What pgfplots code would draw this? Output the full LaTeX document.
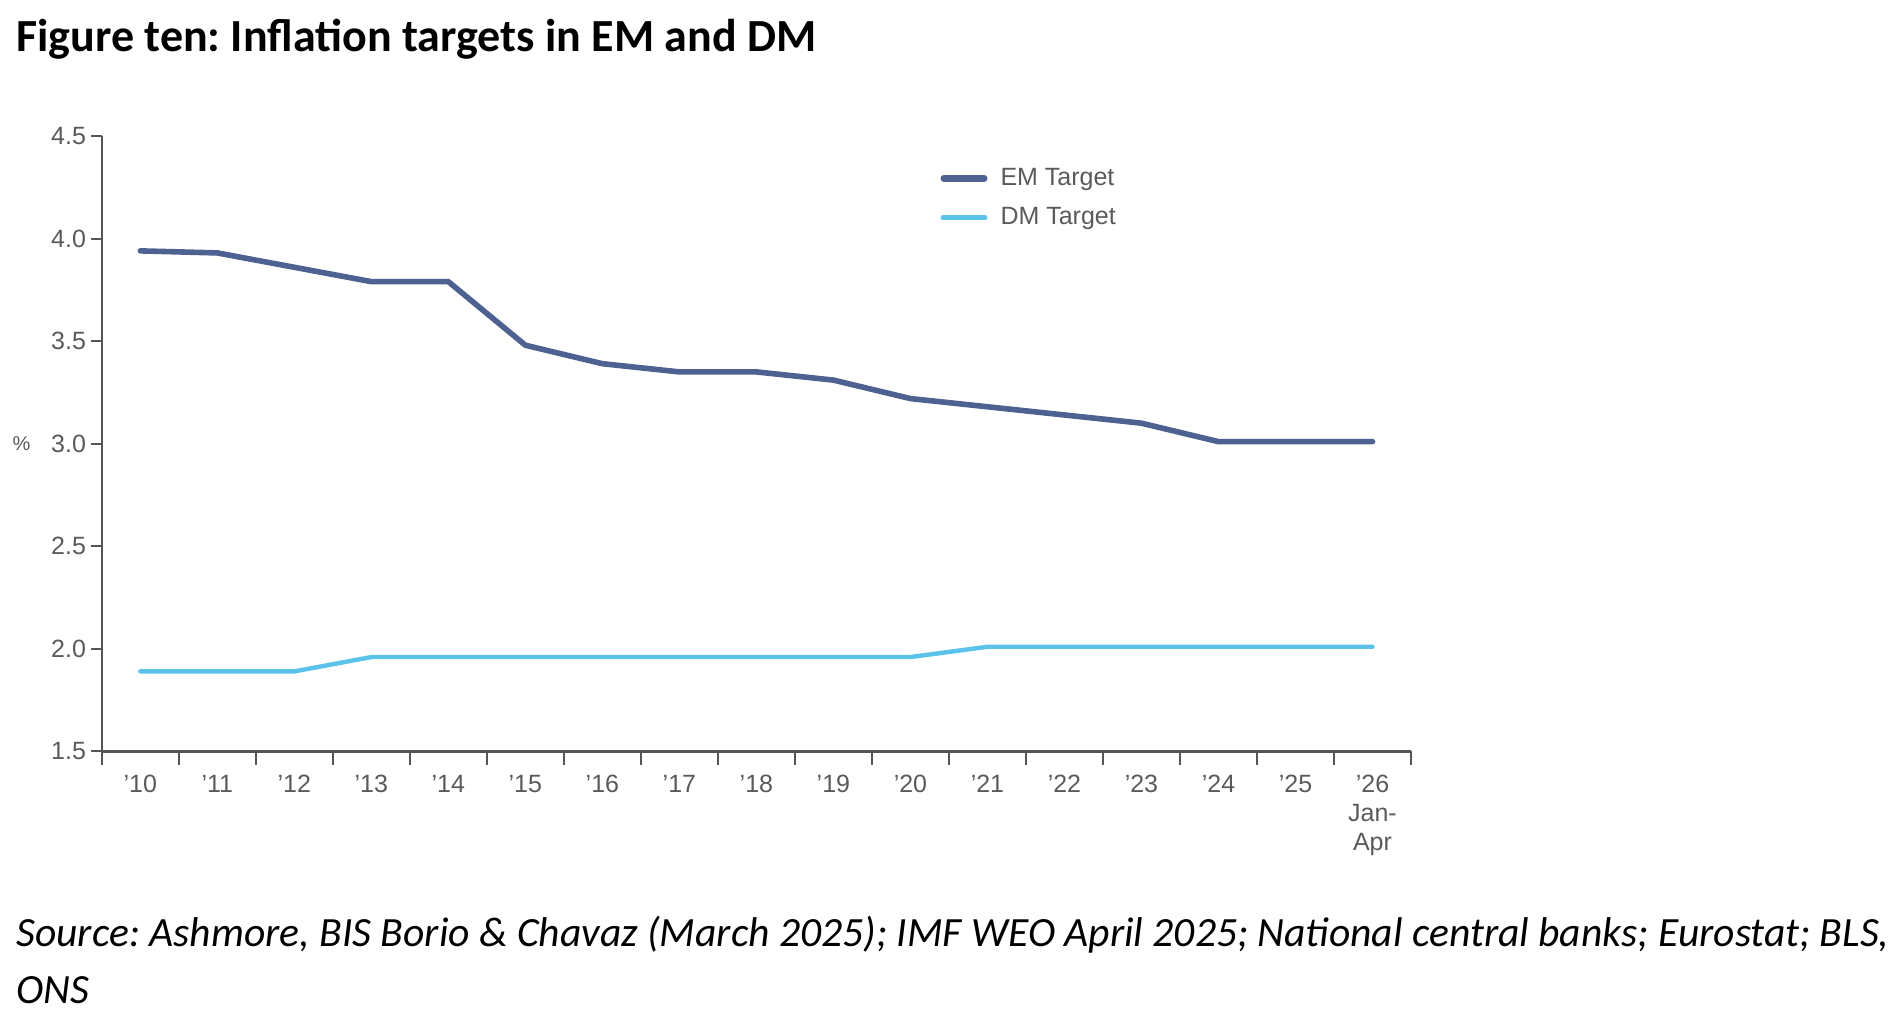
\documentclass[border=0pt]{standalone}
\usepackage{fontspec}
\setmainfont{Carlito}
\newfontfamily\arial{Liberation Sans}
\usepackage{pgfplots}
\pgfplotsset{compat=1.18}
\definecolor{emcol}{HTML}{4D6291}
\definecolor{dmcol}{HTML}{5BC2EA}
\definecolor{axgray}{HTML}{555555}
\definecolor{lblgray}{HTML}{5A5A5A}
\frenchspacing
\begin{document}
\begin{tikzpicture}
\useasboundingbox (0,0) rectangle (949.5pt,517pt);
\node[anchor=base west,inner sep=0pt,font=\fontsize{23}{27}\selectfont\bfseries] at (8pt,491pt) {Figure ten: Inflation targets in EM and DM};
\node[anchor=base west,inner sep=0pt,font=\fontsize{20.8}{25}\selectfont\itshape] at (8pt,44pt) {Source: Ashmore, BIS Borio \& Chavaz (March 2025); IMF WEO April 2025; National central banks; Eurostat; BLS,};
\node[anchor=base west,inner sep=0pt,font=\fontsize{20.8}{25}\selectfont\itshape] at (8pt,15.5pt) {ONS};
\begin{axis}[
  at={(50.9pt,141.3pt)}, anchor=south west,
  scale only axis, width=654.6pt, height=307.7pt,
  xmin=-0.5, xmax=16.5, ymin=1.5, ymax=4.5,
  axis x line=bottom, axis y line=left,
  axis line style={-, axgray, line width=1.3pt},
  tick align=outside,
  major tick length=5.2pt, minor tick length=6.7pt,
  xtick={0,...,16},
  xticklabels={’10,’11,’12,’13,’14,’15,’16,’17,’18,’19,’20,’21,’22,’23,’24,’25,{’26\\Jan-\\Apr}},
  major x tick style={draw=none},
  minor xtick={-0.5,0.5,...,16.5},
  minor x tick style={axgray, line width=1pt},
  ytick={1.5,2.0,2.5,3.0,3.5,4.0,4.5},
  yticklabels={1.5,2.0,2.5,3.0,3.5,4.0,4.5},
  ytick style={axgray, line width=1pt},
  ticklabel style={font=\arial\fontsize{12.5}{14.5}\selectfont, text=lblgray},
  yticklabel style={inner sep=2.5pt},
  xticklabel style={align=center, yshift=-3pt},
  ylabel={\%},
  ylabel style={rotate=-90, at={(axis description cs:-0.0614,0.5)}, anchor=center, font=\arial\fontsize{10}{11}\selectfont, text=lblgray},
  legend style={draw=none, fill=none, at={(axis description cs:0.6403,1)}, anchor=north west, yshift=-16pt, inner sep=0pt, row sep=9.6pt, column sep=6.5pt, font=\arial\fontsize{12.5}{14}\selectfont, text=lblgray, nodes={inner sep=0pt}},
  legend cell align=left,
]
\addplot[emcol, line width=2.8pt, line cap=round, line join=round,
  legend image code/.code={\draw[emcol, line width=3.4pt, line cap=round] (1.7pt,0pt) -- (21.8pt,0pt);}]
  coordinates {(0,3.94) (1,3.93) (2,3.86) (3,3.79) (4,3.79) (5,3.48) (6,3.39) (7,3.35) (8,3.35) (9,3.31) (10,3.22) (11,3.18) (12,3.14) (13,3.10) (14,3.01) (15,3.01) (16,3.01)};
\addlegendentry{EM Target}
\addplot[dmcol, line width=2.2pt, line cap=round, line join=round,
  legend image code/.code={\draw[dmcol, line width=2.6pt, line cap=round] (1.3pt,0pt) -- (22.2pt,0pt);}]
  coordinates {(0,1.89) (1,1.89) (2,1.89) (3,1.96) (4,1.96) (5,1.96) (6,1.96) (7,1.96) (8,1.96) (9,1.96) (10,1.96) (11,2.01) (12,2.01) (13,2.01) (14,2.01) (15,2.01) (16,2.01)};
\addlegendentry{DM Target}
\end{axis}
\end{tikzpicture}
\end{document}
